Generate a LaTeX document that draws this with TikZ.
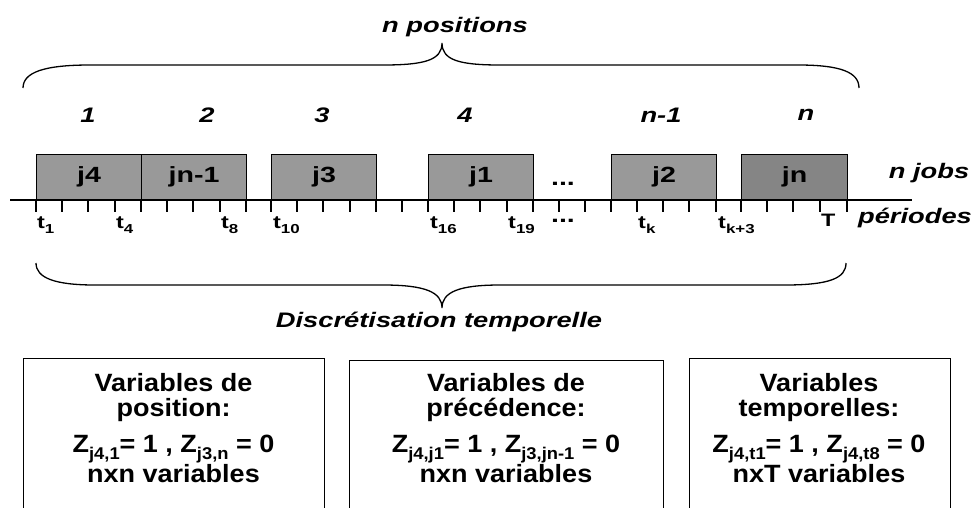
\documentclass[tikz,border=0pt]{standalone}
\usepackage{fontspec}
\setmainfont{Liberation Sans}
\newfontfamily\topfont[FakeStretch=1.3]{Liberation Sans}
\newfontfamily\boxfont[FakeStretch=1.08]{Liberation Sans}
\newcommand\fsz[1]{\fontsize{#1}{#1}\selectfont}
\newcommand\lowsub[2]{\raisebox{-0.3em}{\fsz{#1}#2}}
\definecolor{jobgray}{gray}{0.6}
\definecolor{jngray}{gray}{0.52}
\tikzset{
  jobbox/.style={draw, line width=1.3pt, fill=jobgray, minimum height=45pt, inner sep=0pt, anchor=south west, font=\topfont\bfseries\fsz{22}},
  tickline/.style={line width=1.6pt},
  tlab/.style={anchor=base west, inner sep=0pt, font=\topfont\bfseries\fsz{18}},
  toplab/.style={inner sep=0pt, font=\topfont\bfseries\itshape\fsz{21}},
  dotlab/.style={anchor=base, inner sep=0pt, font=\topfont\bfseries\fsz{22}},
  bracepath/.style={line width=1.3pt},
  varbox/.style={draw, line width=1.3pt, anchor=north west, minimum height=170pt, inner sep=0pt},
  boxtxt/.style={anchor=base, inner sep=0pt, font=\boxfont\bfseries\fsz{25}}
}
\begin{document}
\begin{tikzpicture}[x=1pt,y=1pt]
\useasboundingbox (0,0) rectangle (971,-507);
% top brace and title
\node[toplab] (npos) at (455,-27) {n positions};
\coordinate (tb0) at (23,-88);
\coordinate (tbtip) at (442,-43);
\coordinate (tb1) at (859,-88);
\draw[bracepath] (tb0) .. controls (23,-72) and (45,-65) .. (90,-65) -- (383,-65)
  .. controls (425,-65) and (442,-60) .. (tbtip)
  .. controls (442,-60) and (459,-65) .. (500,-65) -- (798,-65)
  .. controls (840,-65) and (859,-72) .. (tb1);
% position numbers
\node[toplab] (p1) at (88,-115) {1};
\node[toplab] (p2) at (207,-115) {2};
\node[toplab] (p3) at (322,-115) {3};
\node[toplab] (p4) at (465,-115) {4};
\node[toplab] (pn1) at (661,-115) {n-1};
\node[toplab] (pn) at (806,-115) {n};
% jobs
\node[jobbox, minimum width=105pt] (j4) at (36,-200) {j4};
\node[jobbox, minimum width=105pt] (jn1) at (141,-200) {jn-1};
\node[jobbox, minimum width=105pt] (j3) at (271,-200) {j3};
\node[jobbox, minimum width=105pt] (j1) at (428,-200) {j1};
\node[jobbox, minimum width=105pt] (j2) at (611,-200) {j2};
\node[jobbox, minimum width=106pt, fill=jngray] (jn) at (741,-200) {jn};
\node[dotlab] (dots1) at (563,-185) {...};
\node[toplab] (njobs) at (929,-173) {n jobs};
% timeline
\coordinate (tl0) at (10,-200);
\coordinate (tl1) at (912,-200);
\draw[tickline] (tl0) -- (tl1);
\foreach \x in {36,62,88,115,141,167,193,220,246,271,297,323,350,376,402,428,454,480,507,533,559,585,611,637,663,689,716,741,767,793,820,847}
  \draw[tickline] (\x,-200) -- (\x,-212);
% tick labels
\node[tlab] (t1) at (37,-228) {t\lowsub{13}{1}};
\node[tlab] (t4) at (116,-228) {t\lowsub{13}{4}};
\node[tlab] (t8) at (221,-228) {t\lowsub{13}{8}};
\node[tlab] (t10) at (273,-228) {t\lowsub{13}{10}};
\node[tlab] (t16) at (430,-228) {t\lowsub{13}{16}};
\node[tlab] (t19) at (508,-228) {t\lowsub{13}{19}};
\node[tlab] (tk) at (638,-228) {t\lowsub{13}{k}};
\node[tlab] (tk3) at (718,-228) {t\lowsub{13}{k+3}};
\node[tlab] (tT) at (821,-226) {T};
\node[dotlab] (dots2) at (563,-222) {...};
\node[toplab] (per) at (915,-218) {périodes};
% bottom brace
\coordinate (bb0) at (36,-263);
\coordinate (bbtip) at (442,-308);
\coordinate (bb1) at (846,-263);
\draw[bracepath] (bb0) .. controls (36,-278) and (55,-285) .. (95,-285) -- (383,-285)
  .. controls (425,-285) and (442,-292) .. (bbtip)
  .. controls (442,-292) and (459,-285) .. (500,-285) -- (785,-285)
  .. controls (830,-285) and (846,-278) .. (bb1);
\node[toplab] (disc) at (439,-322) {Discrétisation temporelle};
% variable boxes
\node[varbox, minimum width=301pt] (b1) at (23,-358) {};
\node[varbox, minimum width=314pt] (b2) at (349,-360) {};
\node[varbox, minimum width=261pt] (b3) at (689,-358) {};
\node[boxtxt] (b1l1) at (173.5,-391) {Variables de};
\node[boxtxt] (b1l2) at (173.5,-416) {position:};
\node[boxtxt] (b1l3) at (173.5,-452) {Z\lowsub{17}{j4,1}= 1 , Z\lowsub{17}{j3,n} = 0};
\node[boxtxt] (b1l4) at (173.5,-482) {nxn variables};
\node[boxtxt] (b2l1) at (506,-391) {Variables de};
\node[boxtxt] (b2l2) at (506,-416) {précédence:};
\node[boxtxt] (b2l3) at (506,-452) {Z\lowsub{17}{j4,j1}= 1 , Z\lowsub{17}{j3,jn-1} = 0};
\node[boxtxt] (b2l4) at (506,-482) {nxn variables};
\node[boxtxt] (b3l1) at (819,-391) {Variables};
\node[boxtxt] (b3l2) at (819,-416) {temporelles:};
\node[boxtxt] (b3l3) at (819,-452) {Z\lowsub{17}{j4,t1}= 1 , Z\lowsub{17}{j4,t8} = 0};
\node[boxtxt] (b3l4) at (819,-482) {nxT variables};
\end{tikzpicture}
\end{document}
